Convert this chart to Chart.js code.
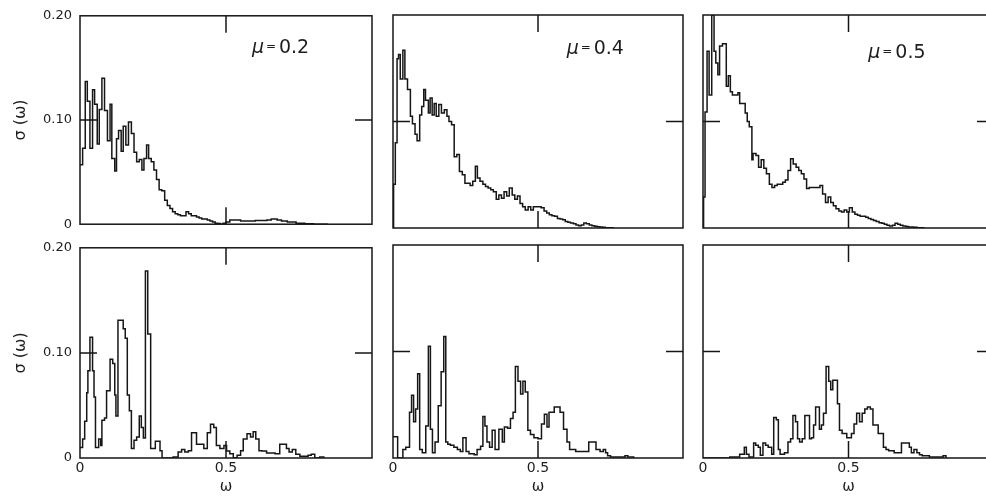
<!DOCTYPE html>
<html><head><meta charset="utf-8">
<script src="https://cdn.jsdelivr.net/npm/chart.js@4.4.1/dist/chart.umd.min.js"></script>
<style>
html,body{margin:0;padding:0;background:#fff;overflow:hidden;width:986px;height:502px;}
#wrap{position:relative;width:1010px;height:502px;overflow:hidden;}
canvas{position:absolute;}
</style></head><body><div id="wrap">
<canvas id="c1"></canvas><canvas id="c2"></canvas><canvas id="c3"></canvas>
<canvas id="c4"></canvas><canvas id="c5"></canvas><canvas id="c6"></canvas>
</div>
<script>
// ---------------- data (step histograms: omega = left edge of each step, sigma = level) -------------
const p1Omega = [0,0.009,0.018,0.025,0.034,0.043,0.050,0.059,0.066,0.075,0.084,0.094,0.103,0.109,0.119,0.125,0.132,0.141,0.148,0.157,0.166,0.176,0.185,0.194,0.203,0.212,0.219,0.228,0.235,0.244,0.253,0.262,0.271,0.280,0.290,0.299,0.308,0.317,0.326,0.335,0.344,0.363,0.372,0.381,0.399,0.408,0.417,0.436,0.445,0.454,0.463,0.472,0.481,0.490,0.500,0.513,0.55,0.60,0.64,0.655,0.675,0.69,0.71,0.74,0.77,0.80,0.85];
const p1Sigma = [0.057,0.073,0.137,0.118,0.073,0.129,0.115,0.077,0.110,0.140,0.109,0.080,0.115,0.063,0.051,0.082,0.090,0.070,0.094,0.076,0.098,0.087,0.069,0.060,0.062,0.052,0.063,0.076,0.063,0.060,0.052,0.043,0.033,0.032,0.023,0.018,0.015,0.012,0.010,0.009,0.008,0.012,0.010,0.008,0.007,0.006,0.005,0.004,0.003,0.002,0.001,0.0006,0,0.001,0.002,0.004,0.003,0.0035,0.004,0.005,0.004,0.003,0.002,0.001,0.0005,0,0];

const p2Omega = [0,0.002,0.008,0.014,0.019,0.025,0.034,0.041,0.050,0.060,0.067,0.076,0.083,0.092,0.099,0.106,0.112,0.122,0.128,0.135,0.142,0.149,0.158,0.167,0.177,0.186,0.193,0.202,0.211,0.220,0.229,0.239,0.248,0.266,0.275,0.284,0.291,0.300,0.310,0.319,0.328,0.337,0.346,0.356,0.365,0.374,0.383,0.392,0.401,0.411,0.420,0.429,0.438,0.447,0.456,0.466,0.475,0.484,0.511,0.521,0.530,0.539,0.548,0.557,0.567,0.576,0.585,0.594,0.603,0.612,0.622,0.631,0.640,0.649,0.658,0.667,0.677,0.686,0.695,0.704,0.713,0.722,0.732,0.759];
const p2Sigma = [0,0.041,0.080,0.159,0.163,0.140,0.167,0.140,0.130,0.105,0.098,0.088,0.082,0.106,0.114,0.130,0.120,0.108,0.122,0.106,0.117,0.105,0.116,0.108,0.111,0.105,0.100,0.097,0.067,0.069,0.053,0.050,0.042,0.040,0.044,0.058,0.047,0.044,0.041,0.039,0.0375,0.036,0.034,0.027,0.031,0.028,0.034,0.030,0.0375,0.031,0.027,0.030,0.023,0.020,0.017,0.020,0.017,0.020,0.019,0.016,0.014,0.0125,0.0115,0.011,0.009,0.0084,0.0078,0.0062,0.0053,0.0047,0.004,0.0028,0.0022,0.0028,0.0047,0.004,0.0028,0.0022,0.0016,0.0012,0.0009,0.0006,0.0003,0];

const p3Omega = [0,0.002,0.007,0.014,0.021,0.030,0.038,0.044,0.051,0.057,0.067,0.080,0.087,0.094,0.101,0.120,0.126,0.145,0.152,0.159,0.168,0.172,0.182,0.191,0.200,0.209,0.218,0.228,0.237,0.246,0.255,0.274,0.283,0.292,0.301,0.310,0.320,0.329,0.338,0.347,0.356,0.365,0.402,0.411,0.421,0.430,0.439,0.448,0.457,0.467,0.476,0.485,0.494,0.503,0.513,0.522,0.531,0.540,0.559,0.568,0.577,0.586,0.595,0.605,0.614,0.623,0.632,0.641,0.651,0.660,0.669,0.678,0.687,0.697,0.706,0.724,0.736,0.759];
const p3Sigma = [0,0.029,0.109,0.166,0.125,0.200,0.166,0.155,0.144,0.171,0.173,0.133,0.143,0.128,0.125,0.127,0.117,0.108,0.100,0.095,0.064,0.070,0.068,0.057,0.064,0.056,0.051,0.041,0.038,0.040,0.041,0.043,0.045,0.054,0.065,0.060,0.057,0.054,0.051,0.046,0.037,0.038,0.040,0.032,0.024,0.029,0.024,0.021,0.018,0.016,0.015,0.017,0.015,0.019,0.015,0.013,0.012,0.011,0.010,0.009,0.008,0.007,0.006,0.005,0.0045,0.0035,0.0025,0.0019,0.0025,0.0044,0.0035,0.0025,0.0019,0.0013,0.001,0.0006,0.0003,0];

const p4Omega = [0,0.009,0.016,0.023,0.027,0.034,0.043,0.048,0.053,0.064,0.071,0.075,0.084,0.091,0.103,0.112,0.119,0.123,0.130,0.148,0.155,0.162,0.169,0.176,0.185,0.194,0.203,0.210,0.217,0.224,0.232,0.242,0.258,0.274,0.281,0.319,0.336,0.348,0.359,0.371,0.382,0.399,0.424,0.436,0.447,0.458,0.467,0.479,0.493,0.502,0.513,0.525,0.538,0.550,0.559,0.572,0.584,0.593,0.602,0.613,0.623,0.639,0.668,0.684,0.707,0.716,0.727,0.739,0.753,0.781,0.792,0.804,0.821,0.835];
const p4Sigma = [0.010,0.018,0.035,0.062,0.083,0.115,0.083,0.058,0.010,0.018,0.012,0.036,0.038,0.064,0.094,0.090,0.060,0.040,0.131,0.123,0.114,0.060,0.045,0.009,0.017,0.020,0.040,0.029,0.019,0.178,0.118,0.009,0.016,0.007,0,0.001,0.0056,0.008,0.0056,0.007,0.024,0.013,0.009,0.024,0.032,0.029,0.012,0.009,0.012,0.0066,0.004,0.0003,0.0025,0.007,0.018,0.023,0.020,0.025,0.018,0.007,0.0066,0.0047,0.004,0.013,0.009,0.0056,0.008,0.0035,0.0016,0.0025,0.0035,0,0.001,0];

const p5Omega = [0,0.016,0.034,0.044,0.057,0.064,0.071,0.078,0.085,0.092,0.101,0.113,0.122,0.129,0.136,0.145,0.156,0.166,0.175,0.182,0.189,0.198,0.210,0.222,0.232,0.241,0.252,0.262,0.280,0.290,0.302,0.310,0.317,0.324,0.333,0.342,0.352,0.365,0.377,0.384,0.395,0.405,0.414,0.422,0.431,0.440,0.448,0.456,0.465,0.474,0.486,0.500,0.512,0.522,0.531,0.538,0.556,0.576,0.588,0.600,0.609,0.630,0.675,0.700,0.714,0.725,0.733,0.740,0.750,0.800,0.810,0.830];
const p5Sigma = [0.020,0,0.008,0.010,0.043,0.059,0.034,0.046,0.079,0.008,0.005,0.030,0.105,0.027,0.005,0.015,0.049,0.081,0.114,0.015,0.013,0.012,0.010,0.008,0.006,0.019,0.006,0.004,0.003,0.008,0.011,0.039,0.030,0.015,0.010,0.026,0.008,0.027,0.015,0.029,0.028,0.037,0.043,0.086,0.072,0.060,0.072,0.062,0.026,0.022,0.019,0.018,0.032,0.041,0.029,0.043,0.048,0.043,0.027,0.015,0.008,0.006,0.015,0.008,0.006,0.008,0.005,0.002,0.001,0.002,0.001,0];

const p6Omega = [0,0.092,0.126,0.142,0.149,0.158,0.174,0.181,0.190,0.197,0.206,0.215,0.224,0.236,0.243,0.252,0.259,0.265,0.280,0.292,0.301,0.309,0.318,0.325,0.332,0.341,0.350,0.366,0.373,0.380,0.387,0.400,0.407,0.414,0.423,0.432,0.439,0.446,0.462,0.469,0.478,0.494,0.510,0.519,0.528,0.538,0.547,0.556,0.565,0.575,0.584,0.602,0.620,0.629,0.638,0.657,0.682,0.709,0.716,0.725,0.735,0.744,0.753,0.778,0.825,0.835];
const p6Sigma = [0,0.001,0.0035,0.010,0.0035,0.001,0.014,0.012,0.010,0.0025,0.014,0.012,0.010,0.0035,0.038,0.036,0.008,0.0035,0.005,0.015,0.018,0.040,0.034,0.018,0.015,0.018,0.040,0.018,0.019,0.031,0.048,0.027,0.031,0.042,0.086,0.072,0.064,0.073,0.051,0.026,0.023,0.019,0.023,0.032,0.042,0.034,0.042,0.046,0.048,0.046,0.031,0.023,0.010,0.008,0.0067,0.005,0.014,0.010,0.005,0.008,0.005,0.003,0.002,0.001,0.002,0];

const muValues = ['0.2', '0.4', '0.5'];
const xTickValues = [0, 0.5];
const xTickLabels = ['0', '0.5'];
const yTickValues = [0, 0.1, 0.2];
const yTickLabels = ['0', '0.10', '0.20'];
const xTitle = 'ω';
const yTitle = 'σ (ω)';
const innerTickOmega = 0.5, innerTickSigma = 0.1;

// ---------------- layout / style ----------------
const INK = '#161616';
const TXT = '#1e1e1e';
const FONT = '"DejaVu Sans", "Liberation Sans", sans-serif';
Chart.defaults.font.family = FONT;
Chart.defaults.color = TXT;

const cols = [
  {left:0,   width:374, padL:0,  padR:2},
  {left:383, width:302, padL:10, padR:2},
  {left:693, width:303, padL:10, padR:2}
];
const rows = [
  {top:0,   height:240, padT:15, padB:12},
  {top:232, height:270, padT:13, padB:4}
];
const muAt = [[0.589, 0.164], [0.599, 0.163], [0.568, 0.160]];

const panels = [
  {id:'c1', omega:p1Omega, sigma:p1Sigma, col:0, row:0, mu:0},
  {id:'c2', omega:p2Omega, sigma:p2Sigma, col:1, row:0, mu:1},
  {id:'c3', omega:p3Omega, sigma:p3Sigma, col:2, row:0, mu:2},
  {id:'c4', omega:p4Omega, sigma:p4Sigma, col:0, row:1, mu:-1},
  {id:'c5', omega:p5Omega, sigma:p5Sigma, col:1, row:1, mu:-1},
  {id:'c6', omega:p6Omega, sigma:p6Sigma, col:2, row:1, mu:-1}
];

const framePlugin = {
  id: 'frame',
  afterDatasetsDraw(chart, args, opts) {
    const ctx = chart.ctx;
    const {left, right, top, bottom} = chart.chartArea;
    const x = chart.scales.x, y = chart.scales.y;
    ctx.save();
    ctx.strokeStyle = INK;
    ctx.lineWidth = 1.5;
    ctx.strokeRect(left, top, right - left, bottom - top);
    const xm = x.getPixelForValue(innerTickOmega);
    const ym = y.getPixelForValue(innerTickSigma);
    const L = 17;
    ctx.beginPath();
    ctx.moveTo(xm, top); ctx.lineTo(xm, top + L);
    ctx.moveTo(xm, bottom); ctx.lineTo(xm, bottom - L);
    ctx.moveTo(left, ym); ctx.lineTo(left + L, ym);
    ctx.moveTo(right, ym); ctx.lineTo(right - L, ym);
    ctx.stroke();
    if (opts && opts.mu) {
      const px = x.getPixelForValue(opts.at[0]);
      const py = y.getPixelForValue(opts.at[1]);
      ctx.fillStyle = TXT;
      ctx.textAlign = 'left';
      ctx.textBaseline = 'alphabetic';
      ctx.font = 'italic 19px ' + FONT;
      ctx.fillText('μ', px, py);
      ctx.font = '12px ' + FONT;
      ctx.fillText('=', px + 14, py - 3);
      ctx.font = '19px ' + FONT;
      ctx.fillText(opts.mu, px + 27, py);
    }
    ctx.restore();
  }
};

panels.forEach(p => {
  const c = cols[p.col], r = rows[p.row];
  const showX = p.row === 1, showY = p.col === 0;
  const cv = document.getElementById(p.id);
  cv.width = c.width; cv.height = r.height;
  cv.style.left = c.left + 'px'; cv.style.top = r.top + 'px';
  cv.style.width = c.width + 'px'; cv.style.height = r.height + 'px';
  new Chart(cv, {
    type: 'line',
    data: {
      datasets: [{
        data: p.omega.map((w, i) => ({x: w, y: p.sigma[i]})),
        stepped: true,
        borderColor: INK,
        borderWidth: 1.5,
        pointRadius: 0,
        fill: false,
        tension: 0
      }]
    },
    options: {
      responsive: false,
      animation: false,
      devicePixelRatio: 1,
      events: [],
      layout: {padding: {left: c.padL, right: c.padR, top: r.padT, bottom: r.padB}},
      plugins: {
        legend: {display: false},
        tooltip: {enabled: false},
        frame: p.mu >= 0 ? {mu: muValues[p.mu], at: muAt[p.mu]} : {}
      },
      scales: {
        x: {
          type: 'linear', min: 0, max: 1,
          display: showX,
          afterFit: s => { s.height = showX ? 40 : 0; },
          afterBuildTicks: s => { s.ticks = xTickValues.map(v => ({value: v})); },
          grid: {display: false, drawTicks: false},
          border: {display: false},
          ticks: {padding: 2, autoSkip: false, maxRotation: 0, color: TXT,
                  font: {size: 14}, callback: (v, i) => xTickLabels[i]},
          title: {display: true, text: xTitle, color: TXT, font: {size: 15},
                  padding: {top: 0, bottom: 2}}
        },
        y: {
          type: 'linear', min: 0, max: 0.2,
          display: showY,
          afterFit: s => { s.width = showY ? 80 : 0; },
          afterBuildTicks: s => { s.ticks = yTickValues.map(v => ({value: v})); },
          grid: {display: false, drawTicks: false},
          border: {display: false},
          ticks: {padding: 8, autoSkip: false, color: TXT,
                  font: {size: 13}, callback: (v, i) => yTickLabels[i]},
          title: {display: true, text: yTitle, color: TXT, font: {size: 16},
                  padding: {top: 11, bottom: 0}}
        }
      }
    },
    plugins: [framePlugin]
  });
});
</script>
</body></html>
